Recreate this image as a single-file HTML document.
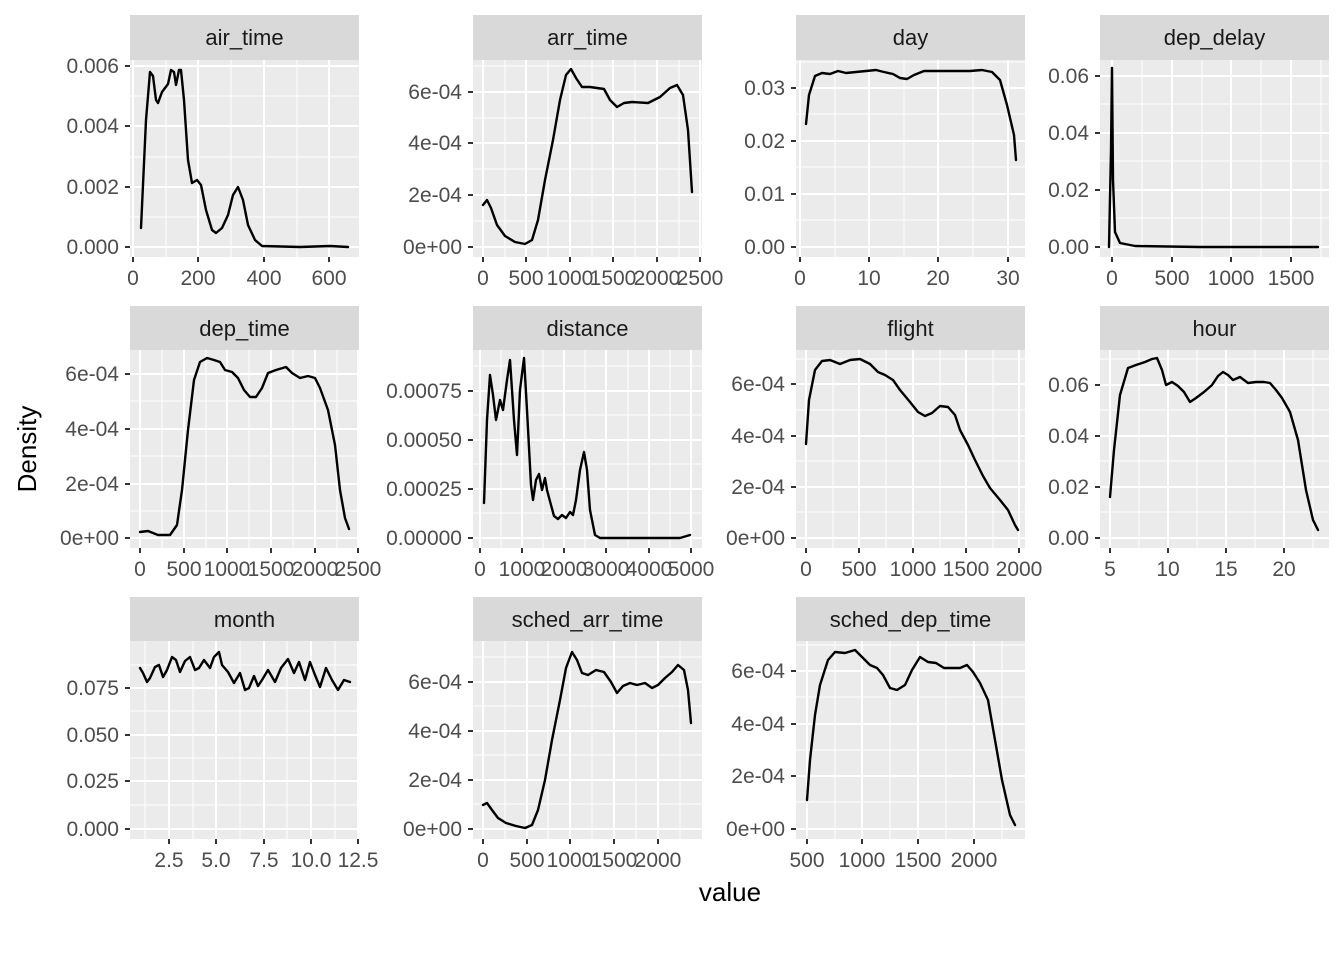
<!DOCTYPE html>
<html><head><meta charset="utf-8"><style>
body{margin:0;background:#fff}
svg text{font-family:"Liberation Sans",Arial,sans-serif}
.st{fill:#d9d9d9}.pb{fill:#ebebeb}
.mj{stroke:#fff;stroke-width:2}.mn{stroke:#fff;stroke-width:1}
.tk{stroke:#333;stroke-width:2}
.c{fill:none;stroke:#000;stroke-width:2.4;stroke-linejoin:round;stroke-linecap:round}
.yl{font-size:21px;fill:#4d4d4d;text-anchor:end}
.xl{font-size:21px;fill:#4d4d4d;text-anchor:middle}
.sl{font-size:22px;fill:#1a1a1a;text-anchor:middle}
</style></head><body>
<svg width="1344" height="960" xmlns="http://www.w3.org/2000/svg">
<rect width="1344" height="960" fill="#fff"/>

<!-- Panel 1 air_time -->
<rect class="st" x="130" y="15" width="229" height="45"/><text class="sl" x="244.5" y="45">air_time</text>
<rect class="pb" x="130" y="60" width="229" height="197"/>
<path class="mn" d="M166 60V257M231 60V257M297 60V257M130 217H359M130 157H359M130 96H359"/>
<path class="mj" d="M133 60V257M198 60V257M264 60V257M329 60V257M130 247H359M130 187H359M130 126H359M130 66H359"/>
<path class="tk" d="M133 257v5M198 257v5M264 257v5M329 257v5M125 247h5M125 187h5M125 126h5M125 66h5"/>
<text class="xl" x="133" y="285">0</text><text class="xl" x="198" y="285">200</text><text class="xl" x="264" y="285">400</text><text class="xl" x="329" y="285">600</text>
<text class="yl" x="119" y="254">0.000</text><text class="yl" x="119" y="194">0.002</text><text class="yl" x="119" y="133">0.004</text><text class="yl" x="119" y="73">0.006</text>
<polyline class="c" points="141,228 146,120 150,72 153,76 156,100 158,103 162,92 165,88 168,84 171,70 174,72 176,85 179,70 181,70 184,100 188,160 192,183 197,180 201,185 206,210 212,230 216,233 222,228 228,215 233,195 238,187 243,200 248,225 255,240 262,246 300,247 330,246 348,247"/>

<!-- Panel 2 arr_time -->
<rect class="st" x="473" y="15" width="229" height="45"/><text class="sl" x="587.5" y="45">arr_time</text>
<rect class="pb" x="473" y="60" width="229" height="197"/>
<path class="mn" d="M505 60V257M548 60V257M592 60V257M635 60V257M679 60V257M473 221H702M473 169H702M473 118H702M473 66H702"/>
<path class="mj" d="M483 60V257M526 60V257M570 60V257M613 60V257M657 60V257M700 60V257M473 247H702M473 195H702M473 143H702M473 92H702"/>
<path class="tk" d="M483 257v5M526 257v5M570 257v5M613 257v5M657 257v5M700 257v5M468 247h5M468 195h5M468 143h5M468 92h5"/>
<text class="xl" x="483" y="285">0</text><text class="xl" x="526" y="285">500</text><text class="xl" x="570" y="285">1000</text><text class="xl" x="613" y="285">1500</text><text class="xl" x="657" y="285">2000</text><text class="xl" x="700" y="285">2500</text>
<text class="yl" x="462" y="254">0e+00</text><text class="yl" x="462" y="202">2e-04</text><text class="yl" x="462" y="150">4e-04</text><text class="yl" x="462" y="99">6e-04</text>
<polyline class="c" points="483,205 487,200 491,208 497,225 505,236 515,242 525,244 532,240 538,220 545,180 553,140 560,100 566,75 571,69 576,78 582,87 590,87 604,89 610,100 617,107 624,103 632,102 648,103 660,97 670,88 677,85 683,95 688,130 692,192"/>

<!-- Panel 3 day -->
<rect class="st" x="796" y="15" width="229" height="45"/><text class="sl" x="910.5" y="45">day</text>
<rect class="pb" x="796" y="60" width="229" height="197"/>
<path class="mn" d="M835 60V257M904 60V257M973 60V257M796 220H1025M796 167H1025M796 114H1025M796 62H1025"/>
<path class="mj" d="M800 60V257M869 60V257M938 60V257M1008 60V257M796 247H1025M796 194H1025M796 141H1025M796 88H1025"/>
<path class="tk" d="M800 257v5M869 257v5M938 257v5M1008 257v5M791 247h5M791 194h5M791 141h5M791 88h5"/>
<text class="xl" x="800" y="285">0</text><text class="xl" x="869" y="285">10</text><text class="xl" x="938" y="285">20</text><text class="xl" x="1008" y="285">30</text>
<text class="yl" x="785" y="254">0.00</text><text class="yl" x="785" y="201">0.01</text><text class="yl" x="785" y="148">0.02</text><text class="yl" x="785" y="95">0.03</text>
<polyline class="c" points="806,124 809,95 815,76 822,73 830,74 838,71 846,73 856,72 866,71 876,70 884,72 893,74 900,78 907,79 914,75 924,71 940,71 956,71 970,71 982,70 992,72 1000,80 1007,105 1014,135 1016,160"/>

<!-- Panel 4 dep_delay -->
<rect class="st" x="1100" y="15" width="229" height="45"/><text class="sl" x="1214.5" y="45">dep_delay</text>
<rect class="pb" x="1100" y="60" width="229" height="197"/>
<path class="mn" d="M1142 60V257M1202 60V257M1261 60V257M1321 60V257M1100 218H1329M1100 161H1329M1100 104H1329"/>
<path class="mj" d="M1112 60V257M1172 60V257M1231 60V257M1291 60V257M1100 247H1329M1100 190H1329M1100 133H1329M1100 76H1329"/>
<path class="tk" d="M1112 257v5M1172 257v5M1231 257v5M1291 257v5M1095 247h5M1095 190h5M1095 133h5M1095 76h5"/>
<text class="xl" x="1112" y="285">0</text><text class="xl" x="1172" y="285">500</text><text class="xl" x="1231" y="285">1000</text><text class="xl" x="1291" y="285">1500</text>
<text class="yl" x="1089" y="254">0.00</text><text class="yl" x="1089" y="197">0.02</text><text class="yl" x="1089" y="140">0.04</text><text class="yl" x="1089" y="83">0.06</text>
<polyline class="c" points="1109,247 1111,150 1112,68 1113,180 1115,232 1120,243 1135,246 1200,247 1318,247"/>

<!-- Panel 5 dep_time -->
<rect class="st" x="130" y="306" width="229" height="44"/><text class="sl" x="244.5" y="336">dep_time</text>
<rect class="pb" x="130" y="350" width="229" height="198"/>
<path class="mn" d="M162 350V548M206 350V548M249 350V548M293 350V548M337 350V548M130 511H359M130 456H359M130 401H359"/>
<path class="mj" d="M140 350V548M184 350V548M227 350V548M271 350V548M315 350V548M358 350V548M130 538H359M130 484H359M130 429H359M130 374H359"/>
<path class="tk" d="M140 548v5M184 548v5M227 548v5M271 548v5M315 548v5M358 548v5M125 538h5M125 484h5M125 429h5M125 374h5"/>
<text class="xl" x="140" y="576">0</text><text class="xl" x="184" y="576">500</text><text class="xl" x="227" y="576">1000</text><text class="xl" x="271" y="576">1500</text><text class="xl" x="315" y="576">2000</text><text class="xl" x="358" y="576">2500</text>
<text class="yl" x="119" y="545">0e+00</text><text class="yl" x="119" y="491">2e-04</text><text class="yl" x="119" y="436">4e-04</text><text class="yl" x="119" y="381">6e-04</text>
<polyline class="c" points="140,532 148,531 158,535 170,535 177,525 182,490 188,430 194,380 200,362 207,358 214,360 220,362 225,370 232,372 238,378 244,390 250,397 256,397 262,388 268,373 276,370 286,367 292,373 300,378 308,376 315,378 320,388 328,410 335,445 340,490 345,518 349,529"/>

<!-- Panel 6 distance -->
<rect class="st" x="473" y="306" width="229" height="44"/><text class="sl" x="587.5" y="336">distance</text>
<rect class="pb" x="473" y="350" width="229" height="198"/>
<path class="mn" d="M501 350V548M543 350V548M585 350V548M628 350V548M670 350V548M473 513H702M473 464H702M473 415H702M473 366H702"/>
<path class="mj" d="M480 350V548M522 350V548M564 350V548M606 350V548M649 350V548M691 350V548M473 538H702M473 489H702M473 440H702M473 391H702"/>
<path class="tk" d="M480 548v5M522 548v5M564 548v5M606 548v5M649 548v5M691 548v5M468 538h5M468 489h5M468 440h5M468 391h5"/>
<text class="xl" x="480" y="576">0</text><text class="xl" x="522" y="576">1000</text><text class="xl" x="564" y="576">2000</text><text class="xl" x="606" y="576">3000</text><text class="xl" x="649" y="576">4000</text><text class="xl" x="691" y="576">5000</text>
<text class="yl" x="462" y="545">0.00000</text><text class="yl" x="462" y="496">0.00025</text><text class="yl" x="462" y="447">0.00050</text><text class="yl" x="462" y="398">0.00075</text>
<polyline class="c" points="484,503 487,420 490,375 493,395 496,420 500,400 503,410 507,380 510,360 514,420 517,455 520,390 524,358 527,410 531,485 533,500 536,480 539,474 542,490 545,478 547,490 551,505 554,516 558,519 562,515 566,518 570,512 573,515 576,500 580,470 584,452 587,470 590,510 595,535 600,538 680,538 690,535"/>

<!-- Panel 7 flight -->
<rect class="st" x="796" y="306" width="229" height="44"/><text class="sl" x="910.5" y="336">flight</text>
<rect class="pb" x="796" y="350" width="229" height="198"/>
<path class="mn" d="M833 350V548M886 350V548M940 350V548M993 350V548M796 512H1025M796 461H1025M796 410H1025M796 359H1025"/>
<path class="mj" d="M806 350V548M859 350V548M913 350V548M966 350V548M1019 350V548M796 538H1025M796 487H1025M796 436H1025M796 384H1025"/>
<path class="tk" d="M806 548v5M859 548v5M913 548v5M966 548v5M1019 548v5M791 538h5M791 487h5M791 436h5M791 384h5"/>
<text class="xl" x="806" y="576">0</text><text class="xl" x="859" y="576">500</text><text class="xl" x="913" y="576">1000</text><text class="xl" x="966" y="576">1500</text><text class="xl" x="1019" y="576">2000</text>
<text class="yl" x="785" y="545">0e+00</text><text class="yl" x="785" y="494">2e-04</text><text class="yl" x="785" y="443">4e-04</text><text class="yl" x="785" y="391">6e-04</text>
<polyline class="c" points="806,444 809,400 815,370 822,361 830,360 840,364 850,360 860,359 870,364 878,372 885,375 893,380 900,390 910,402 918,412 925,416 932,413 940,406 948,407 955,415 960,430 968,445 975,460 983,476 990,488 1000,500 1008,510 1015,525 1018,530"/>

<!-- Panel 8 hour -->
<rect class="st" x="1100" y="306" width="229" height="44"/><text class="sl" x="1214.5" y="336">hour</text>
<rect class="pb" x="1100" y="350" width="229" height="198"/>
<path class="mn" d="M1139 350V548M1197 350V548M1255 350V548M1313 350V548M1100 512H1329M1100 461H1329M1100 410H1329M1100 359H1329"/>
<path class="mj" d="M1110 350V548M1168 350V548M1226 350V548M1284 350V548M1100 538H1329M1100 487H1329M1100 436H1329M1100 385H1329"/>
<path class="tk" d="M1110 548v5M1168 548v5M1226 548v5M1284 548v5M1095 538h5M1095 487h5M1095 436h5M1095 385h5"/>
<text class="xl" x="1110" y="576">5</text><text class="xl" x="1168" y="576">10</text><text class="xl" x="1226" y="576">15</text><text class="xl" x="1284" y="576">20</text>
<text class="yl" x="1089" y="545">0.00</text><text class="yl" x="1089" y="494">0.02</text><text class="yl" x="1089" y="443">0.04</text><text class="yl" x="1089" y="392">0.06</text>
<polyline class="c" points="1110,497 1114,450 1120,395 1128,368 1136,365 1145,362 1152,359 1157,358 1162,370 1166,385 1172,382 1178,386 1184,392 1190,402 1196,398 1204,392 1212,385 1218,376 1223,372 1228,375 1233,380 1240,377 1248,383 1256,382 1264,382 1270,383 1276,390 1282,398 1290,412 1298,440 1306,490 1313,520 1318,530"/>

<!-- Panel 9 month -->
<rect class="st" x="130" y="597" width="229" height="44"/><text class="sl" x="244.5" y="627">month</text>
<rect class="pb" x="130" y="641" width="229" height="198"/>
<path class="mn" d="M145 641V839M193 641V839M240 641V839M287 641V839M335 641V839M130 805H359M130 758H359M130 711H359M130 665H359"/>
<path class="mj" d="M169 641V839M216 641V839M264 641V839M311 641V839M358 641V839M130 829H359M130 781H359M130 735H359M130 688H359"/>
<path class="tk" d="M169 839v5M216 839v5M264 839v5M311 839v5M358 839v5M125 829h5M125 781h5M125 735h5M125 688h5"/>
<text class="xl" x="169" y="867">2.5</text><text class="xl" x="216" y="867">5.0</text><text class="xl" x="264" y="867">7.5</text><text class="xl" x="311" y="867">10.0</text><text class="xl" x="358" y="867">12.5</text>
<text class="yl" x="119" y="836">0.000</text><text class="yl" x="119" y="788">0.025</text><text class="yl" x="119" y="742">0.050</text><text class="yl" x="119" y="695">0.075</text>
<polyline class="c" points="140,668 143,673 147,682 150,678 155,667 159,665 163,677 167,670 172,657 176,660 180,672 185,661 190,657 195,670 199,668 204,660 210,668 214,657 219,652 222,665 228,672 234,683 240,673 245,690 249,688 254,676 258,686 262,680 268,670 275,682 281,668 288,659 294,673 299,662 305,680 310,662 315,675 320,687 326,668 332,680 338,690 344,680 350,682"/>

<!-- Panel 10 sched_arr_time -->
<rect class="st" x="473" y="597" width="229" height="44"/><text class="sl" x="587.5" y="627">sched_arr_time</text>
<rect class="pb" x="473" y="641" width="229" height="198"/>
<path class="mn" d="M505 641V839M548 641V839M592 641V839M636 641V839M680 641V839M473 804H702M473 755H702M473 706H702M473 657H702"/>
<path class="mj" d="M483 641V839M527 641V839M570 641V839M614 641V839M658 641V839M473 829H702M473 780H702M473 731H702M473 682H702"/>
<path class="tk" d="M483 839v5M527 839v5M570 839v5M614 839v5M658 839v5M468 829h5M468 780h5M468 731h5M468 682h5"/>
<text class="xl" x="483" y="867">0</text><text class="xl" x="527" y="867">500</text><text class="xl" x="570" y="867">1000</text><text class="xl" x="614" y="867">1500</text><text class="xl" x="658" y="867">2000</text>
<text class="yl" x="462" y="836">0e+00</text><text class="yl" x="462" y="787">2e-04</text><text class="yl" x="462" y="738">4e-04</text><text class="yl" x="462" y="689">6e-04</text>
<polyline class="c" points="483,805 487,803 492,810 498,818 506,823 516,826 525,828 532,825 538,810 545,780 552,740 560,700 566,668 572,652 577,660 582,673 588,675 596,670 604,672 611,682 617,693 623,686 630,683 637,685 645,683 652,688 658,685 665,678 672,672 678,665 684,670 688,690 691,723"/>

<!-- Panel 11 sched_dep_time -->
<rect class="st" x="796" y="597" width="229" height="44"/><text class="sl" x="910.5" y="627">sched_dep_time</text>
<rect class="pb" x="796" y="641" width="229" height="198"/>
<path class="mn" d="M835 641V839M890 641V839M946 641V839M1002 641V839M796 802H1025M796 750H1025M796 697H1025M796 645H1025"/>
<path class="mj" d="M807 641V839M862 641V839M918 641V839M974 641V839M796 829H1025M796 776H1025M796 724H1025M796 671H1025"/>
<path class="tk" d="M807 839v5M862 839v5M918 839v5M974 839v5M791 829h5M791 776h5M791 724h5M791 671h5"/>
<text class="xl" x="807" y="867">500</text><text class="xl" x="862" y="867">1000</text><text class="xl" x="918" y="867">1500</text><text class="xl" x="974" y="867">2000</text>
<text class="yl" x="785" y="836">0e+00</text><text class="yl" x="785" y="783">2e-04</text><text class="yl" x="785" y="731">4e-04</text><text class="yl" x="785" y="678">6e-04</text>
<polyline class="c" points="807,800 810,760 815,715 820,685 828,660 835,652 845,653 855,650 863,658 870,665 877,668 883,675 890,688 897,690 905,685 912,670 920,657 928,662 936,663 944,668 952,668 960,668 967,665 973,672 980,683 988,700 995,740 1002,780 1010,815 1015,825"/>

<text x="730" y="901" font-size="26" fill="#000" text-anchor="middle">value</text>
<text x="0" y="0" font-size="26" fill="#000" text-anchor="middle" transform="translate(36,449) rotate(-90)">Density</text>
</svg>
</body></html>
